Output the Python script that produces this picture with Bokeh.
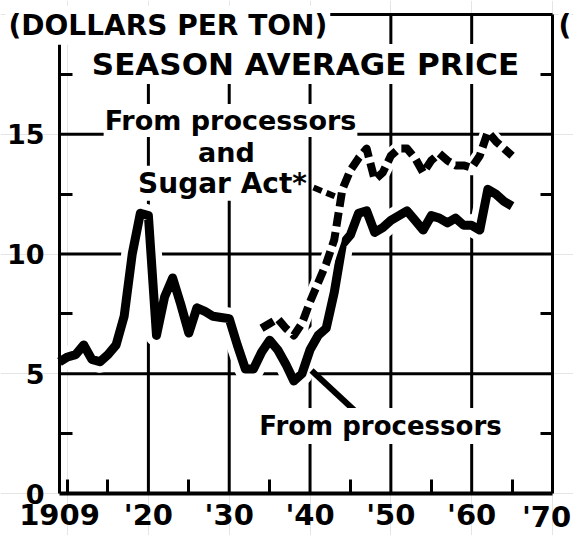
from bokeh.plotting import figure
from bokeh.models import (FixedTicker, LinearAxis, Label, Range1d,
                          ColumnDataSource)
from bokeh.embed import file_html
from bokeh.resources import INLINE

# ---------------- data ----------------
years_proc = list(range(1909, 1966))
price_proc = [5.5, 5.7, 5.8, 6.2, 5.6, 5.5, 5.8, 6.2, 7.4, 10.0,
              11.7, 11.6, 6.6, 8.2, 9.0, 7.9, 6.7, 7.75, 7.6, 7.4,
              7.35, 7.3, 6.2, 5.2, 5.2, 5.9, 6.4, 6.0, 5.4, 4.7,
              5.0, 6.0, 6.6, 6.9, 8.4, 10.4, 10.8, 11.7, 11.8, 10.9,
              11.1, 11.4, 11.6, 11.8, 11.4, 11.0, 11.6, 11.5, 11.3, 11.5,
              11.2, 11.2, 11.0, 12.7, 12.5, 12.2, 12.0]

years_act = list(range(1934, 1966))
price_act = [6.9, 7.1, 7.3, 6.9, 6.6, 7.1, 8.0, 8.8, 9.6, 10.6,
             12.7, 13.5, 14.0, 14.4, 13.1, 13.4, 14.1, 14.4, 14.4, 14.0,
             13.4, 13.9, 14.2, 13.9, 13.7, 13.7, 13.6, 14.1, 15.1, 14.7,
             14.4, 14.1]

x_ticks = [1909, 1920, 1930, 1940, 1950, 1960, 1970]
x_tick_labels = ["1909", "'20", "'30", "'40", "'50", "'60", "'70"]
x_minor = [1910, 1915, 1925, 1935, 1945, 1955, 1965]
x_grid = [1920, 1930, 1940, 1950, 1960]
x_lim = [1909, 1970]
y_ticks = [0, 5, 10, 15]
y_tick_labels = ["0", "5", "10", "15"]
y_minor = [2.5, 7.5, 12.5, 17.5]
y_grid = [5, 10, 15]
y_lim = [0, 20]

unit_label = "(DOLLARS PER TON)"
title_text = "SEASON AVERAGE PRICE"
upper_lines = ["From processors", "and", "Sugar Act*"]
lower_text = "From processors"

# ---------------- layout helpers (page pixel -> data) ----------------
FONT = "DejaVu Sans"
W, H = 573, 535
X0, X1, Y0, Y1 = 59, 552, 493, 14   # plot-box edges in page pixels


def px_x(px):
    return x_lim[0] + (px - X0) * (x_lim[1] - x_lim[0]) / (X1 - X0)


def px_y(py):
    return y_lim[0] + (Y0 - py) * (y_lim[1] - y_lim[0]) / (Y0 - Y1)


# the frame fills the whole canvas so that no text is clipped;
# axes are pinned to the plot box with fixed_location
p = figure(width=W, height=H, output_backend="svg", toolbar_location=None,
           x_range=Range1d(px_x(0), px_x(W)), y_range=Range1d(px_y(H), px_y(0)),
           x_axis_location=None, y_axis_location=None,
           min_border=0, outline_line_color=None,
           background_fill_color="white", border_fill_color="white")

# grid lines limited to the plot box
gx = ColumnDataSource(dict(x=x_grid, y0=[y_lim[0]] * len(x_grid),
                           y1=[y_lim[1]] * len(x_grid)))
gy = ColumnDataSource(dict(y=y_grid, x0=[x_lim[0]] * len(y_grid),
                           x1=[x_lim[1]] * len(y_grid)))
p.segment(x0="x", y0="y0", x1="x", y1="y1", source=gx, line_color="black",
          line_width=3)
p.segment(x0="x0", y0="y", x1="x1", y1="y", source=gy, line_color="black",
          line_width=3)

common = dict(axis_line_color="black", major_tick_line_color=None,
              minor_tick_out=0, minor_tick_line_width=3,
              minor_tick_line_color="black",
              major_label_text_font=FONT, major_label_text_font_style="bold",
              major_label_text_color="black")

left = LinearAxis(ticker=FixedTicker(ticks=y_ticks, minor_ticks=y_minor),
                  major_label_overrides={t: l for t, l in zip(y_ticks, y_tick_labels)},
                  fixed_location=x_lim[0], bounds=tuple(y_lim),
                  axis_line_width=3, minor_tick_in=13,
                  major_label_text_font_size="27px", major_label_standoff=9,
                  **common)
p.add_layout(left, "left")

overrides = {t: l for t, l in zip(x_ticks, x_tick_labels)}
overrides[x_ticks[-1]] = ""   # drawn below as a label so it stays on the page
bottom = LinearAxis(ticker=FixedTicker(ticks=x_ticks, minor_ticks=x_minor),
                    major_label_overrides=overrides,
                    fixed_location=y_lim[0], bounds=tuple(x_lim),
                    axis_line_width=4, minor_tick_in=14,
                    major_label_text_font_size="29px", major_label_standoff=-2,
                    **common)
p.add_layout(bottom, "below")

right = LinearAxis(ticker=FixedTicker(ticks=[], minor_ticks=y_minor),
                   fixed_location=x_lim[1], bounds=tuple(y_lim),
                   axis_line_width=3, minor_tick_in=12, **common)
p.add_layout(right, "right")

top = LinearAxis(ticker=FixedTicker(ticks=[]), fixed_location=y_lim[1],
                 bounds=tuple(x_lim), axis_line_width=3, **common)
p.add_layout(top, "above")

# data lines with white halos
src_p = ColumnDataSource(dict(x=years_proc, y=price_proc))
src_a = ColumnDataSource(dict(x=years_act, y=price_act))
p.line("x", "y", source=src_p, line_color="white", line_width=22, line_join="round")
p.line("x", "y", source=src_p, line_color="black", line_width=9, line_join="round")
p.line("x", "y", source=src_a, line_color="white", line_width=15, line_join="round")
p.line("x", "y", source=src_a, line_color="black", line_width=8, line_dash="14 6",
       line_join="round")

# leader lines
p.line([px_x(313), px_x(337)], [px_y(187), px_y(197)], line_color="black",
       line_width=6, line_dash="9 5")
p.line([px_x(311), px_x(368)], [px_y(370), px_y(423)], line_color="black",
       line_width=6)


def label(text, cx, base, size, align="center", pad=1, bg="white"):
    # base: wanted baseline (page px); labels render about 0.37 em lower
    lab = Label(x=px_x(cx), y=px_y(base - 0.37 * size), text=text,
                text_font=FONT, text_font_style="bold",
                text_font_size=f"{size}px", text_color="black",
                text_align=align, text_baseline="alphabetic",
                background_fill_color=bg, padding=pad)
    p.add_layout(lab)


label(unit_label, 5, 35, 28, align="left", pad=3)
label("(", 558, 35, 28, align="left", pad=0)
label(title_text, 305, 75, 31, pad=2)
label(upper_lines[0], 230, 130, 27)
label(upper_lines[1], 226, 162, 27)
label(upper_lines[2], 222, 193, 28)
label(lower_text, 380, 435, 26, pad=3)
label(x_tick_labels[-1], 546, 527, 29, pad=0, bg=None)

open("out.html", "w").write(file_html(p, INLINE))
